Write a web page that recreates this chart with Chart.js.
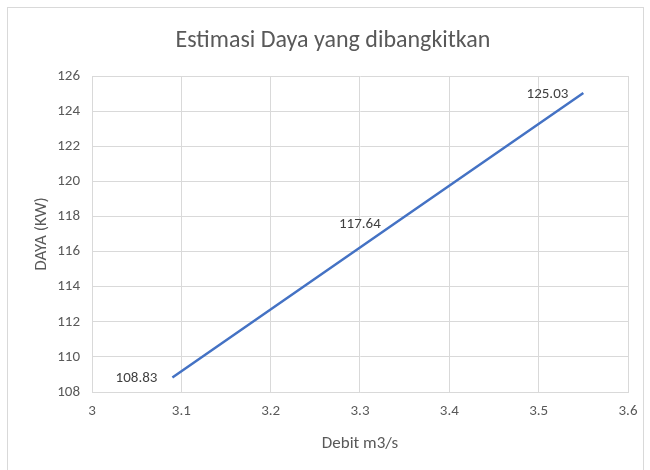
<!DOCTYPE html>
<html>
<head>
<meta charset="utf-8">
<script src="https://cdn.jsdelivr.net/npm/chart.js@4.4.1/dist/chart.umd.min.js"></script>
<style>
  body { margin: 0; background: #fff; }
  #wrap { position: relative; width: 650px; height: 470px; }
  #frame { position: absolute; left: 7px; top: 7px; width: 637px; height: 470px; border: 1px solid #d9d9d9; box-sizing: border-box; }
  canvas { position: absolute; left: 0; top: 0; }
</style>
</head>
<body>
<div id="wrap">
  <div id="frame"></div>
  <canvas id="c" width="650" height="470"></canvas>
</div>
<script>
const debit = [3.09, 3.34, 3.55];
const daya = [108.83, 117.64, 125.03];
const dayaLabels = ['108.83', '117.64', '125.03'];
const xTicks = [3, 3.1, 3.2, 3.3, 3.4, 3.5, 3.6];
const yTicks = [108, 110, 112, 114, 116, 118, 120, 122, 124, 126];
const chartTitle = 'Estimasi Daya yang dibangkitkan';

const FONT = "Carlito, 'Liberation Sans', sans-serif";
const TXT = '#595959';
const GRID = '#d9d9d9';

// value labels sit to the left of each point
const pointLabels = {
  id: 'pointLabels',
  afterDatasetsDraw(chart) {
    const ctx = chart.ctx;
    const meta = chart.getDatasetMeta(0);
    ctx.save();
    ctx.font = '15px ' + FONT;
    ctx.fillStyle = '#404040';
    ctx.textAlign = 'right';
    ctx.textBaseline = 'middle';
    meta.data.forEach((p, i) => {
      ctx.fillText(dayaLabels[i], p.x - 15, p.y + 1);
    });
    ctx.restore();
  }
};

// title is centred on the plot area, like excel does
const plotTitle = {
  id: 'plotTitle',
  afterDraw(chart) {
    const ctx = chart.ctx;
    const a = chart.chartArea;
    ctx.save();
    ctx.font = '24px ' + FONT;
    ctx.fillStyle = TXT;
    ctx.textAlign = 'center';
    ctx.textBaseline = 'middle';
    ctx.fillText(chartTitle, (a.left + a.right) / 2 - 27, 41);
    ctx.restore();
  }
};

new Chart(document.getElementById('c'), {
  type: 'scatter',
  data: {
    datasets: [{
      data: debit.map((x, i) => ({ x: x, y: daya[i] })),
      showLine: true,
      borderColor: '#4472C4',
      borderWidth: 2.5,
      pointRadius: 0,
      fill: false
    }]
  },
  options: {
    responsive: false,
    animation: false,
    layout: { padding: { left: 0, right: 22, top: 76, bottom: 0 } },
    plugins: {
      legend: { display: false },
      tooltip: { enabled: false },
      title: { display: false }
    },
    scales: {
      x: {
        type: 'linear',
        min: 3, max: 3.6,
        afterBuildTicks: s => { s.ticks = xTicks.map(v => ({ value: v })); },
        afterFit: s => { s.height = 78; },
        grid: { color: GRID, drawTicks: false },
        border: { color: GRID },
        ticks: {
          color: TXT, padding: 10,
          font: { family: FONT, size: 15 },
          callback: v => String(v)
        },
        title: {
          display: true, text: 'Debit m3/s', color: TXT,
          font: { family: FONT, size: 17 },
          padding: { top: 0, bottom: 16 }
        }
      },
      y: {
        min: 108, max: 126,
        afterBuildTicks: s => { s.ticks = yTicks.map(v => ({ value: v })); },
        afterFit: s => { s.width = 92; },
        grid: { color: GRID, drawTicks: false },
        border: { color: GRID },
        ticks: {
          color: TXT, padding: 12,
          font: { family: FONT, size: 15 }
        },
        title: {
          display: true, text: 'DAYA (KW)', color: TXT,
          font: { family: FONT, size: 17 },
          padding: { top: 32, bottom: 0 }
        }
      }
    }
  },
  plugins: [pointLabels, plotTitle]
});
</script>
</body>
</html>
